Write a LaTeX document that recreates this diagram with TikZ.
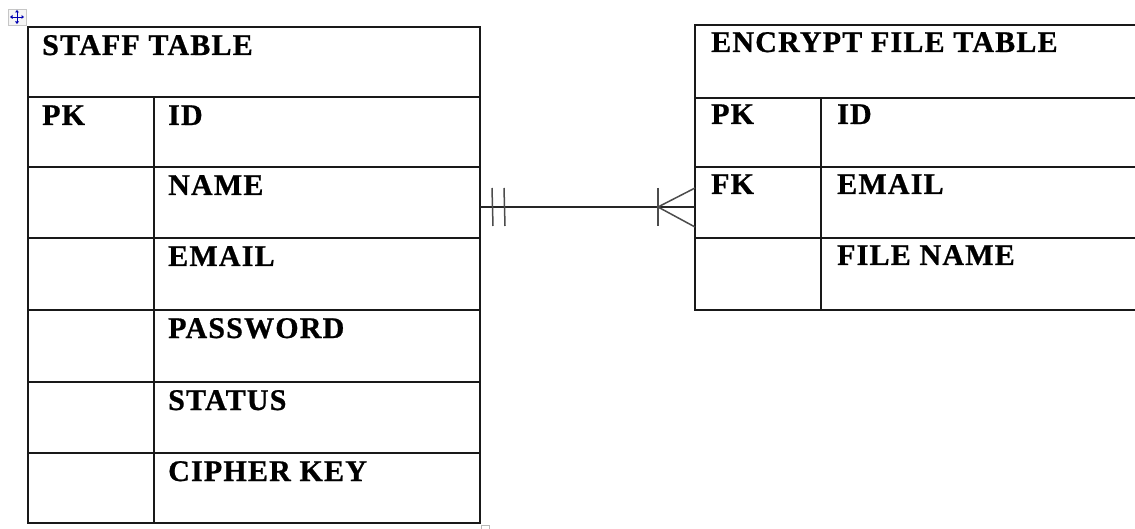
\documentclass[tikz,border=0pt]{standalone}
\usepackage{fontspec}
\setmainfont{Liberation Serif}
\newfontfamily\tabfont[LetterSpace=4,BoldFeatures={FakeBold=0.8}]{Liberation Serif}
\usetikzlibrary{calc}
\begin{document}
\begin{tikzpicture}[x=1pt,y=-1pt,
  grid/.style={line width=1.6pt, draw=black!90},
  lbl/.style={anchor=base west, inner sep=0pt, font=\tabfont\fontsize{30}{34}\selectfont\bfseries},
  rel/.style={line width=1.5pt, draw=black!85},
  tick/.style={line width=1.5pt, draw=black!70}]
\useasboundingbox (0,0) rectangle (1135,529);
% Word move handle artifact
\draw[gray!45, line width=0.6pt, fill=gray!8] (8,9) rectangle (26,25);
\draw[blue!70!black, line width=0.9pt] (11,17) -- (23,17) (17,11) -- (17,23);
\fill[blue!70!black] (10,17) -- (12.5,15) -- (12.5,19) -- cycle
  (24,17) -- (21.5,15) -- (21.5,19) -- cycle
  (17,10) -- (15,12.5) -- (19,12.5) -- cycle
  (17,24) -- (15,21.5) -- (19,21.5) -- cycle;
% STAFF TABLE frame
\draw[grid] (28,27) rectangle (480,523);
\foreach \y in {97,167,238,310,382,453} \draw[grid] (28,\y) -- (480,\y);
\draw[grid] (154,97) -- (154,523);
\draw[gray!55, line width=0.6pt] (481,525) rectangle (489,533);
% STAFF TABLE texts
\node[lbl] (sTitle) at (42,55) {STAFF TABLE};
\node[lbl] (sPK) at (42,125) {PK};
\node[lbl] (sID) at (168,125) {ID};
\node[lbl] (sName) at (168,195) {NAME};
\node[lbl] (sEmail) at (168,266) {EMAIL};
\node[lbl] (sPass) at (168,338) {PASSWORD};
\node[lbl] (sStatus) at (168,410) {STATUS};
\node[lbl] (sKey) at (168,481) {CIPHER KEY};
% ENCRYPT FILE TABLE frame (cut off at right edge)
\draw[grid] (1136,25) -- (695,25) -- (695,310) -- (1136,310);
\foreach \y in {98,167,238} \draw[grid] (695,\y) -- (1136,\y);
\draw[grid] (821,98) -- (821,310);
% ENCRYPT FILE TABLE texts
\node[lbl] (eTitle) at (711,52) {ENCRYPT FILE TABLE};
\node[lbl] (ePK) at (711,124) {PK};
\node[lbl] (eID) at (837,124) {ID};
\node[lbl] (eFK) at (711,194) {FK};
\node[lbl] (eEmail) at (837,194) {EMAIL};
\node[lbl] (eFile) at (837,265) {FILE NAME};
% relationship
\coordinate (staffR) at (480,207);
\coordinate (encL) at (695,207);
\draw[rel] (staffR) -- (encL);
\draw[tick] ($(staffR)+(12,-19)$) -- ($(staffR)+(13,19)$);
\draw[tick] ($(staffR)+(24,-19)$) -- ($(staffR)+(25,19)$);
\draw[tick] ($(encL)+(-37,-19)$) -- ($(encL)+(-37,19)$);
\draw[tick] ($(encL)+(0,-19)$) -- ($(encL)+(-37,0)$) -- ($(encL)+(0,20)$);
\end{tikzpicture}
\end{document}
